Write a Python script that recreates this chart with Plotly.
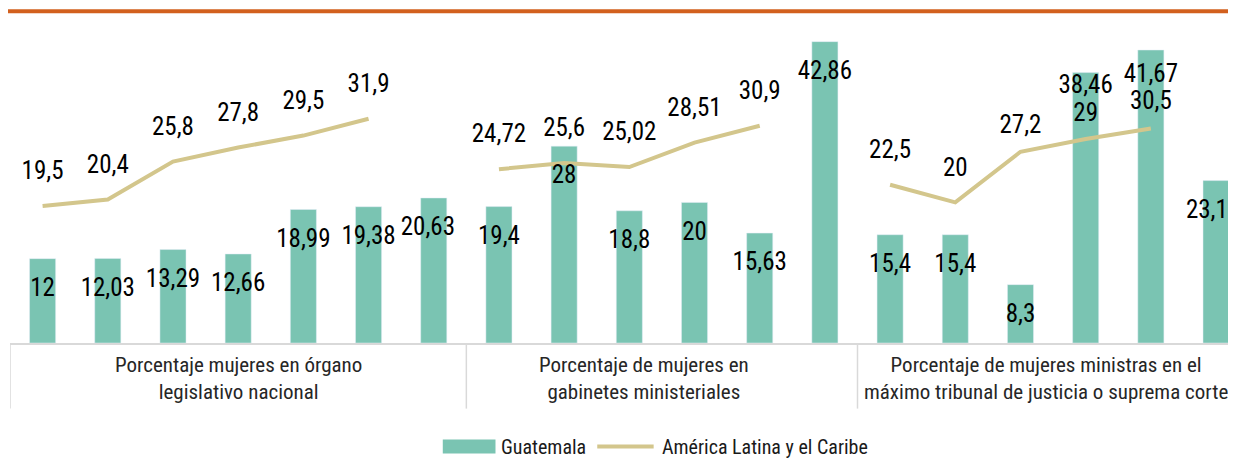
import plotly.graph_objects as go

# group labels (category axis) and series, one list per group
groups = ["Porcentaje mujeres en órgano<br>legislativo nacional",
          "Porcentaje de mujeres en<br>gabinetes ministeriales",
          "Porcentaje de mujeres ministras en el<br>máximo tribunal de justicia o suprema corte"]

guatemala_leg = [12, 12.03, 13.29, 12.66, 18.99, 19.38, 20.63]
guatemala_gab = [19.4, 28, 18.8, 20, 15.63, 42.86]
guatemala_jus = [15.4, 15.4, 8.3, 38.46, 41.67, 23.1]

alc_leg = [19.5, 20.4, 25.8, 27.8, 29.5, 31.9, None]
alc_gab = [24.72, 25.6, 25.02, 28.51, 30.9, None]
alc_jus = [22.5, 20, 27.2, 29, 30.5, None]

guatemala = guatemala_leg + guatemala_gab + guatemala_jus
alc = alc_leg + alc_gab + alc_jus
sizes = [len(guatemala_leg), len(guatemala_gab), len(guatemala_jus)]
x = list(range(len(guatemala)))

FONT = "Liberation Sans Narrow, Roboto Condensed, Roboto, sans-serif"
BAR_COLOR = "#7AC4B2"
LINE_COLOR = "#D3C68C"

# label offsets in axis units; a few nudged where labels would collide
bar_drop = {16: 2.0, 17: 3.7}
bar_dx = {6: -0.09, 18: -0.14}
line_lift = {15: 3.6, 16: 3.5, 17: 3.7}


def fmt(v):
    return f"{v:g}".replace(".", ",")


fig = go.Figure()
fig.add_trace(go.Bar(x=x, y=guatemala, name="Guatemala", width=0.4,
                     marker_color=BAR_COLOR, showlegend=False))
fig.add_trace(go.Scatter(x=x, y=alc, name="América Latina y el Caribe",
                         mode="lines", connectgaps=False, showlegend=False,
                         line=dict(color=LINE_COLOR, width=4)))

fig.add_trace(go.Scatter(x=[i + bar_dx.get(i, 0) for i in x],
                         y=[v - bar_drop.get(i, 4.4) for i, v in zip(x, guatemala)],
                         mode="text", text=[fmt(v) for v in guatemala], showlegend=False,
                         textfont=dict(family=FONT, size=25, color="black"),
                         cliponaxis=False, hoverinfo="skip"))
xl = [i for i, v in zip(x, alc) if v is not None]
yl = [v for v in alc if v is not None]
fig.add_trace(go.Scatter(x=xl, y=[v + line_lift.get(i, 4.7) for i, v in zip(xl, yl)],
                         mode="text", text=[fmt(v) for v in yl], showlegend=False,
                         textfont=dict(family=FONT, size=25, color="black"),
                         cliponaxis=False, hoverinfo="skip"))

# group separators and labels under the axis
edges = [-0.5]
for s in sizes:
    edges.append(edges[-1] + s)
for e in edges:
    fig.add_shape(type="line", xref="x", yref="paper", x0=e, x1=e, y0=0, y1=-0.197,
                  line=dict(color="#D9D9D9", width=1.5))
shifts = [0, -18, -7]
for g, a, b, sh in zip(groups, edges[:-1], edges[1:], shifts):
    fig.add_annotation(text=g, x=(a + b) / 2, xref="x", y=-0.107, yref="paper",
                       yanchor="middle", showarrow=False, xshift=sh,
                       font=dict(family=FONT, size=21, color="#262626"))

# orange rule at the top
fig.add_shape(type="line", xref="paper", yref="paper", x0=-0.01, x1=1.01,
              y0=0.996, y1=0.996, line=dict(color="#D2601E", width=4))

# legend drawn by hand: wide swatch for the bars, line for the regional mean
fig.add_shape(type="rect", xref="paper", yref="paper", x0=0.353, x1=0.396,
              y0=-0.332, y1=-0.290, line_width=0, fillcolor=BAR_COLOR)
fig.add_annotation(text="Guatemala", xref="paper", yref="paper", x=0.399, y=-0.311,
                   xanchor="left", yanchor="middle", showarrow=False,
                   font=dict(family=FONT, size=20, color="#1a1a1a"))
fig.add_shape(type="line", xref="paper", yref="paper", x0=0.479, x1=0.525,
              y0=-0.311, y1=-0.311, line=dict(color=LINE_COLOR, width=4))
fig.add_annotation(text="América Latina y el Caribe", xref="paper", yref="paper",
                   x=0.530, y=-0.311, xanchor="left", yanchor="middle", showarrow=False,
                   font=dict(family=FONT, size=20, color="#1a1a1a"))

fig.update_layout(
    width=1228, height=450,
    margin=dict(l=2.4, r=0, t=2, b=114.7, autoexpand=False),
    plot_bgcolor="white", paper_bgcolor="white",
    font=dict(family=FONT, size=21, color="#262626"),
    showlegend=False,
    xaxis=dict(range=[-0.5, 18.306], showticklabels=False, showgrid=False, zeroline=False,
               showline=True, linecolor="#D9D9D9", linewidth=1.5, ticks=""),
    yaxis=dict(range=[0, 47.36], visible=False),
)

fig.write_html("out.html")
